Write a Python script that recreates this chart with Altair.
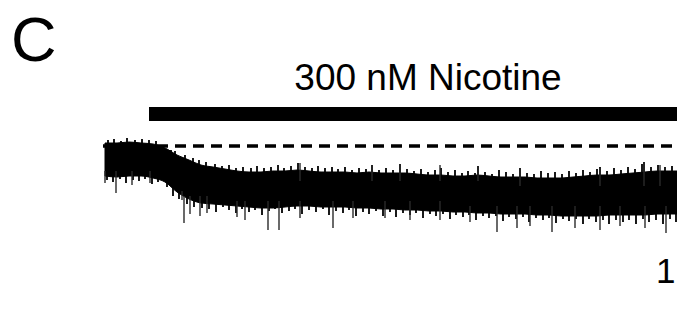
import altair as alt
import pandas as pd

# ---- Trace core envelope (every 12 s), current relative to baseline (dashed line = 0) ----
time_grid = list(range(0, 565, 12)) + [572]
upper_env = [3, 3, 4, 3, 2, -2, -9, -14, -19, -21,
             -23, -25, -26, -26, -25, -25, -24, -25, -26, -26,
             -26, -27, -26, -27, -27, -27, -28, -29, -29, -30,
             -30, -29, -30, -31, -31, -31, -32, -32, -32, -31,
             -30, -29, -29, -28, -27, -26, -25, -25, -25]
lower_env = [-30, -31, -30, -30, -32, -36, -46, -53, -57, -58,
             -59, -60, -61, -62, -62, -61, -60, -60, -61, -61,
             -61, -62, -62, -63, -63, -64, -64, -65, -65, -66,
             -66, -67, -67, -68, -68, -68, -69, -69, -70, -70,
             -70, -70, -69, -69, -69, -69, -68, -68, -68]

# ---- Fine noise along the top edge (time, tip current), grouped by where the band lies ----
top_fuzz_t = [3, 9, 16, 22, 30, 37, 44, 51,
              58, 66, 70, 80, 88, 94,
              101, 110, 117, 124, 131, 138, 146, 152, 159, 166, 173, 179, 186, 193, 200, 207,
              213, 220, 227, 233, 240, 247, 254, 261, 267, 274, 281, 288, 295, 302, 309, 316,
              323, 330, 336, 343, 350, 357, 363, 370, 373, 380, 387, 394, 401, 408, 415, 422,
              429, 436, 443, 450, 457, 464, 471, 478, 485, 492, 495, 502, 509, 516, 523, 530,
              537, 539, 546, 553, 560, 567]
top_fuzz_tip = [6, 7, 5, 8, 6, 7, 6, 5,
                1, -4, -5, -9, -12, -14,
                -16, -18, -20, -19, -22, -21, -22, -20, -22, -21, -19, -22, -20, -17, -21, -22,
                -20, -22, -21, -23, -21, -24, -22, -23, -19, -24, -22, -24, -18, -23, -25, -23,
                -26, -24, -22, -26, -24, -27, -25, -27, -20, -26, -28, -24, -26, -28, -22, -27,
                -28, -25, -27, -26, -28, -25, -27, -24, -26, -23, -21, -25, -22, -24, -21, -23,
                -18, -16, -21, -19, -21, -20]
top_fuzz_base = [0] * 8 + [-20] * 6 + [-35] * 70

# ---- Fine noise along the bottom edge ----
bot_fuzz_t = [2, 8, 15, 21, 28, 34, 40, 47, 53,
              62, 68, 74, 82, 89, 97,
              104, 111, 118, 124, 131, 137, 144, 150, 157, 164, 170, 177, 184, 190, 197, 204,
              211, 218, 224, 231, 238, 244, 251, 258, 264, 271, 278, 285, 291, 298, 305, 311,
              318, 325, 331, 338, 345, 351, 358, 364, 371, 378, 384, 391, 398, 404, 411, 418,
              424, 431, 438, 444, 451, 458, 464, 471, 478, 484, 491, 498, 504, 511, 518, 524,
              531, 538, 544, 551, 558, 565, 571]
bot_fuzz_tip = [-34, -36, -33, -37, -34, -35, -33, -38, -36,
                -41, -50, -53, -58, -61, -62,
                -63, -66, -61, -64, -67, -63, -66, -64, -69, -65, -63, -67, -65, -63, -68, -64,
                -66, -63, -69, -65, -67, -64, -70, -66, -68, -65, -70, -66, -71, -67, -69, -67,
                -72, -68, -70, -68, -73, -69, -71, -69, -74, -70, -72, -70, -75, -71, -73, -71,
                -76, -72, -74, -72, -77, -73, -75, -73, -78, -73, -76, -74, -78, -74, -76, -74,
                -78, -73, -76, -74, -78, -73, -76]
bot_fuzz_base = [-15] * 9 + [-35] * 6 + [-45] * 71

# ---- Large individual current spikes (time, tip, base inside the band) ----
spike_time = [0, 11, 27, 45, 77, 79, 85, 95, 102, 132, 140, 163, 174, 195, 228, 248,
              280, 305, 335, 365, 392, 412, 425, 447, 470, 495, 515, 540, 561,
              195, 267, 295, 335, 373, 415, 495, 539, 555]
spike_tip = [-37, -47, -39, -37, -54, -77, -68, -70, -67, -71, -74, -84, -84, -72, -82, -72,
             -72, -74, -74, -76, -86, -82, -80, -86, -82, -84, -80, -82, -87,
             -17, -19, -18, -19, -20, -22, -22, -16, -19]
spike_base = [-25, -25, -25, -25, -45, -50, -50, -50, -50, -55, -55, -55, -55, -55, -55, -55,
              -55, -55, -55, -60, -60, -60, -60, -60, -60, -60, -60, -60, -60,
              -35, -35, -35, -35, -35, -40, -40, -40, -40]

# ---- Drug application bar and baseline ----
drug_label = "300 nM Nicotine"
drug_start, drug_end = 44, 572
drug_bar_top, drug_bar_bottom = 39, 25
baseline_start, baseline_end, baseline_level = -2, 572, 0

panel_label = "C"
scale_label = "1"

trace = pd.DataFrame({"t": time_grid, "hi": upper_env, "lo": lower_env})
fuzz = pd.DataFrame({"t": top_fuzz_t + bot_fuzz_t,
                     "tip": top_fuzz_tip + bot_fuzz_tip,
                     "base": top_fuzz_base + bot_fuzz_base})
spikes = pd.DataFrame({"t": spike_time, "tip": spike_tip, "base": spike_base})
bar = pd.DataFrame({"t": [drug_start], "t2": [drug_end], "c": [drug_bar_top], "c2": [drug_bar_bottom]})
base = pd.DataFrame({"t": [baseline_start], "t2": [baseline_end], "c": [baseline_level]})

xs = alt.Scale(domain=[-105, 572], nice=False, zero=False)
ys = alt.Scale(domain=[-176, 146], nice=False, zero=False)
X = lambda f: alt.X(f, type="quantitative", scale=xs, axis=None)
Y = lambda f: alt.Y(f, type="quantitative", scale=ys, axis=None)

band = alt.Chart(trace).mark_area(color="black", stroke="black", strokeWidth=1,
                                   interpolate="monotone").encode(
    x=X("t"), y=Y("hi"), y2="lo")
fz = alt.Chart(fuzz).mark_rule(color="black", strokeWidth=1.8).encode(
    x=X("t"), y=Y("tip"), y2="base")
spk = alt.Chart(spikes).mark_rule(color="#2a2a2a", strokeWidth=1.4).encode(
    x=X("t"), y=Y("tip"), y2="base")
barm = alt.Chart(bar).mark_rect(color="black").encode(
    x=X("t"), x2="t2", y=Y("c"), y2="c2")
dash = alt.Chart(base).mark_rule(color="black", strokeWidth=3.4, strokeDash=[11, 7]).encode(
    x=X("t"), x2="t2", y=Y("c"))

font = "Liberation Sans"
txt_c = alt.Chart(pd.DataFrame({"s": [panel_label]})).mark_text(
    font=font, fontSize=63, align="left", baseline="alphabetic", color="black").encode(
    text="s", x=alt.value(11), y=alt.value(61))
txt_d = alt.Chart(pd.DataFrame({"s": [drug_label]})).mark_text(
    font=font, fontSize=37, align="center", baseline="alphabetic", color="black").encode(
    text="s", x=alt.value(428), y=alt.value(90))
txt_1 = alt.Chart(pd.DataFrame({"s": [scale_label]})).mark_text(
    font=font, fontSize=35, align="left", baseline="alphabetic", color="black").encode(
    text="s", x=alt.value(656), y=alt.value(283))

chart = alt.layer(band, fz, spk, dash, barm, txt_c, txt_d, txt_1).properties(
    width=677, height=322, autosize=alt.AutoSizeParams(type="none"), padding=0,
    background="white"
).configure_view(stroke=None)

chart.save("out.html", embed_options={"renderer": "svg", "actions": False})
